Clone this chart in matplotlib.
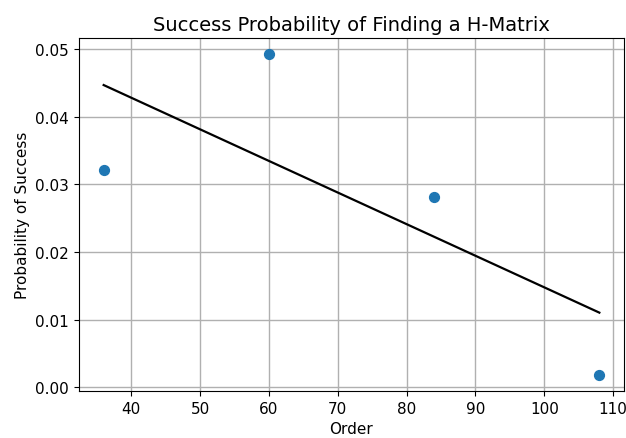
import numpy as np
import matplotlib.pyplot as plt

# Matrix orders and measured success probabilities
orders = np.array([36, 60, 84, 108])
success_prob = np.array([0.0322, 0.0493, 0.0282, 0.0018])

# Linear fit through the points
coef = np.polyfit(orders, success_prob, 1)
fit_line = np.polyval(coef, orders)

fig, ax = plt.subplots(figsize=(6.26, 4.39), dpi=100)
fig.subplots_adjust(left=0.126, right=0.997, top=0.911, bottom=0.107)

ax.scatter(orders, success_prob, s=50, zorder=3)
ax.plot(orders, fit_line, color='k', linewidth=1.6, zorder=3)

ax.set_title("Success Probability of Finding a H-Matrix", fontsize=14)
ax.set_xlabel("Order", fontsize=11)
ax.set_ylabel("Probability of Success", fontsize=11)
ax.tick_params(labelsize=11)
ax.grid(True, color='#b0b0b0', linewidth=1.0)

plt.savefig("out.png", dpi=100)
